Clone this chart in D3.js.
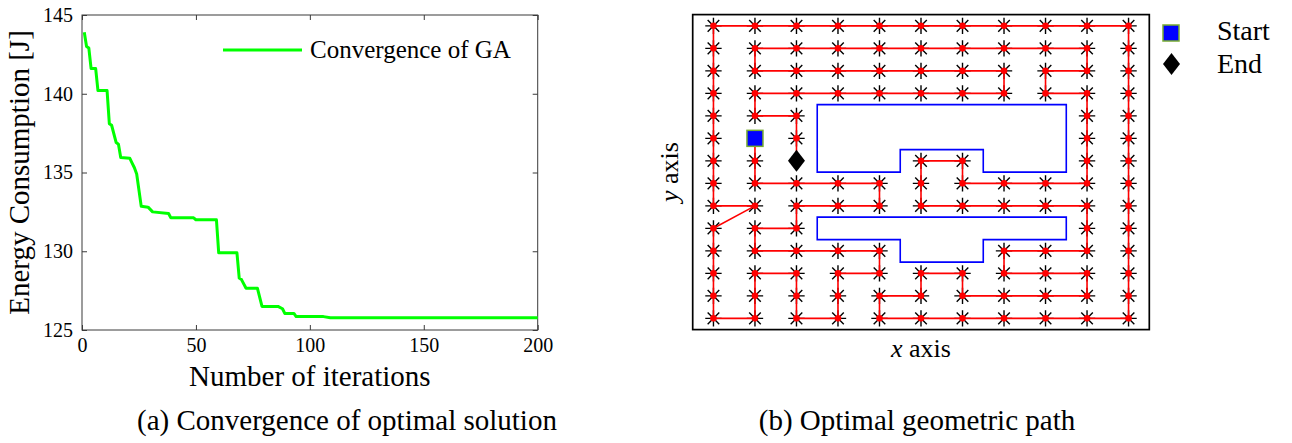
<!DOCTYPE html>
<html>
<head>
<meta charset="utf-8">
<script src="https://cdn.jsdelivr.net/npm/d3@7"></script>
<style>
  html, body { margin: 0; padding: 0; background: #fff; }
  svg { display: block; }
  text { font-family: "Liberation Serif", "Times New Roman", serif; fill: #000; }
</style>
</head>
<body>
<svg id="fig" width="1292" height="443"></svg>
<script>
// ---- (a) GA convergence: best energy per iteration (vertices of the stepped curve)
const gaIterations = [1, 2, 3, 4, 6, 7, 11, 12, 13, 15, 16, 17, 21, 22, 23, 24, 26, 29, 31, 38, 39, 49, 50, 59, 60, 68, 69, 70, 72, 77, 79, 86, 88, 89, 93, 94, 106, 109, 200];
const gaEnergy = [143.9, 143.0, 142.9, 141.6, 141.6, 140.2, 140.2, 138.1, 138.0, 136.9, 136.8, 135.95, 135.9, 135.6, 135.3, 134.9, 132.85, 132.8, 132.5, 132.4, 132.12, 132.12, 132.0, 132.0, 129.9, 129.9, 128.3, 128.2, 127.65, 127.65, 126.5, 126.5, 126.35, 126.05, 126.05, 125.85, 125.85, 125.78, 125.78];
const xTicksA = [0, 50, 100, 150, 200];
const yTicksA = [125, 130, 135, 140, 145];

// ---- (b) optimal geometric path on the 11 x 14 node grid (column, row)
const pathNodes = [
  [2,9],[2,8],[2,7],[3,7],[4,7],[5,7],[5,6],[4,6],[3,6],[3,5],
  [2,5],[2,4],[3,4],[4,4],[5,4],[5,3],[4,3],[4,2],[4,1],[3,1],
  [3,2],[3,3],[2,3],[2,2],[2,1],[1,1],[1,2],[1,3],[1,4],[1,5],
  [2,6],[1,6],[1,7],[1,8],[1,9],[1,10],[1,11],[1,12],[1,13],[1,14],
  [2,14],[3,14],[4,14],[5,14],[6,14],[7,14],[8,14],[9,14],[10,14],[11,14],
  [11,13],[11,12],[11,11],[11,10],[11,9],[11,8],[11,7],[11,6],[11,5],[11,4],[11,3],[11,2],[11,1],
  [10,1],[9,1],[8,1],[7,1],[6,1],[5,1],
  [5,2],[6,2],[6,3],[7,3],[7,2],[8,2],[9,2],[10,2],[10,3],[9,3],[8,3],[8,4],
  [9,4],[10,4],[10,5],[10,6],[9,6],[8,6],[7,6],[6,6],[6,7],
  [6,8],[7,8],[7,7],[8,7],[9,7],[10,7],[10,8],[10,9],[10,10],[10,11],
  [9,11],[9,12],[10,12],[10,13],
  [9,13],[8,13],[7,13],[6,13],[5,13],[4,13],[3,13],[2,13],
  [2,12],[3,12],[4,12],[5,12],[6,12],[7,12],[8,12],
  [8,11],[7,11],[6,11],[5,11],[4,11],[3,11],[2,11],
  [2,10],[3,10],[3,9],[3,8]
];
const obstacleUpper = [[3.5,10.5],[9.5,10.5],[9.5,7.5],[7.5,7.5],[7.5,8.5],[5.5,8.5],[5.5,7.5],[3.5,7.5]];
const obstacleLower = [[3.5,5.5],[9.5,5.5],[9.5,4.5],[7.5,4.5],[7.5,3.5],[5.5,3.5],[5.5,4.5],[3.5,4.5]];
const startNode = [2, 9];
const endNode = [3, 8];

const svg = d3.select("#fig");
const axisColor = "#3a3a3a";

// ================= panel (a) =================
const A = { left: 82, right: 537.7, top: 15, bottom: 330 };
const xA = d3.scaleLinear().domain([0, 200]).range([A.left, A.right]);
const yA = d3.scaleLinear().domain([125, 145]).range([A.bottom, A.top]);
const gA = svg.append("g");

function styleAxis(g) {
  g.select(".domain").remove();
  g.selectAll(".tick line").attr("stroke", axisColor).attr("stroke-width", 1);
  g.selectAll(".tick text").style("font-family", '"Liberation Serif", serif').style("font-size", "20px").attr("fill", "#222");
}
gA.append("g").attr("transform", `translate(0,${A.bottom})`)
  .call(d3.axisBottom(xA).tickValues(xTicksA).tickSize(-5).tickPadding(8).tickFormat(d3.format("d")))
  .call(styleAxis);
gA.append("g").attr("transform", `translate(0,${A.top})`)
  .call(d3.axisTop(xA).tickValues(xTicksA).tickSize(-5).tickFormat(""))
  .call(styleAxis);
gA.append("g").attr("transform", `translate(${A.left},0)`)
  .call(d3.axisLeft(yA).tickValues(yTicksA).tickSize(-5).tickPadding(9).tickFormat(d3.format("d")))
  .call(styleAxis);
gA.append("g").attr("transform", `translate(${A.right},0)`)
  .call(d3.axisRight(yA).tickValues(yTicksA).tickSize(-5).tickFormat(""))
  .call(styleAxis);
gA.append("rect").attr("x", A.left).attr("y", A.top)
  .attr("width", A.right - A.left).attr("height", A.bottom - A.top)
  .attr("fill", "none").attr("stroke", axisColor).attr("stroke-width", 1);

const gaPoints = gaIterations.map((it, i) => [it, gaEnergy[i]]);
gA.append("path").datum(gaPoints)
  .attr("fill", "none").attr("stroke", "#00ff00").attr("stroke-width", 3)
  .attr("stroke-linejoin", "round")
  .attr("d", d3.line().x(d => xA(d[0])).y(d => yA(d[1])));

// legend
gA.append("line").attr("x1", 223).attr("x2", 302).attr("y1", 50).attr("y2", 50)
  .attr("stroke", "#00ff00").attr("stroke-width", 3);
gA.append("text").attr("x", 310).attr("y", 58).style("font-size", "25px").text("Convergence of GA");

gA.append("text").attr("x", (A.left + A.right) / 2).attr("y", 386)
  .attr("text-anchor", "middle").style("font-size", "29px").attr("fill", "#222").text("Number of iterations");
gA.append("text").attr("transform", `translate(29,${(A.top + A.bottom) / 2}) rotate(-90)`)
  .attr("text-anchor", "middle").style("font-size", "29px").attr("fill", "#222").text("Energy Consumption [J]");
gA.append("text").attr("x", 347).attr("y", 430).attr("text-anchor", "middle")
  .style("font-size", "29px").text("(a) Convergence of optimal solution");

// ================= panel (b) =================
const B = { left: 692.7, right: 1149.3, top: 14.6, bottom: 329.6 };
const xB = d3.scaleLinear().domain([0.5, 11.5]).range([B.left, B.right]);
const yB = d3.scaleLinear().domain([0.5, 14.5]).range([B.bottom, B.top]);
const gB = svg.append("g");

// obstacles
const poly = d3.line().x(d => xB(d[0])).y(d => yB(d[1])).curve(d3.curveLinearClosed);
[obstacleUpper, obstacleLower].forEach(o => {
  gB.append("path").attr("d", poly(o)).attr("fill", "none")
    .attr("stroke", "#0000ff").attr("stroke-width", 1.6);
});

// asterisk markers at every visited node
const innerNodes = pathNodes.filter(p => !(p[0] === startNode[0] && p[1] === startNode[1]) && !(p[0] === endNode[0] && p[1] === endNode[1]));
const r = 8.2, dg = 5.8;
const ast = gB.append("g").attr("stroke", "#000").attr("stroke-width", 1.4);
innerNodes.forEach(p => {
  const cx = xB(p[0]), cy = yB(p[1]);
  ast.append("path").attr("d",
    `M${cx - r},${cy}H${cx + r}M${cx},${cy - r}V${cy + r}` +
    `M${cx - dg},${cy - dg}L${cx + dg},${cy + dg}M${cx - dg},${cy + dg}L${cx + dg},${cy - dg}`);
});

// route
gB.append("path").datum(pathNodes)
  .attr("fill", "none").attr("stroke", "#ff0000").attr("stroke-width", 1.6)
  .attr("d", d3.line().x(d => xB(d[0])).y(d => yB(d[1])));
gB.append("g").selectAll("circle").data(innerNodes).join("circle")
  .attr("cx", d => xB(d[0])).attr("cy", d => yB(d[1])).attr("r", 3.3).attr("fill", "#ff0000");

// start / end markers
const sq = 16;
gB.append("rect").attr("x", xB(startNode[0]) - sq / 2).attr("y", yB(startNode[1]) - sq / 2)
  .attr("width", sq).attr("height", sq).attr("fill", "#0000ff").attr("stroke", "#77ac30").attr("stroke-width", 1.5);
const dw = 8.5, dh = 11;
const diamond = (cx, cy) => `M${cx},${cy - dh}L${cx + dw},${cy}L${cx},${cy + dh}L${cx - dw},${cy}Z`;
gB.append("path").attr("d", diamond(xB(endNode[0]), yB(endNode[1]))).attr("fill", "#000");

// frame
gB.append("rect").attr("x", B.left).attr("y", B.top)
  .attr("width", B.right - B.left).attr("height", B.bottom - B.top)
  .attr("fill", "none").attr("stroke", "#000").attr("stroke-width", 1.7);

// legend
gB.append("rect").attr("x", 1171 - sq / 2).attr("y", 33 - sq / 2).attr("width", sq).attr("height", sq)
  .attr("fill", "#0000ff").attr("stroke", "#77ac30").attr("stroke-width", 1.5);
gB.append("path").attr("d", diamond(1171.5, 64)).attr("fill", "#000");
gB.append("text").attr("x", 1217).attr("y", 40).style("font-size", "28px").text("Start");
gB.append("text").attr("x", 1217).attr("y", 73).style("font-size", "28px").text("End");

// axis labels and caption
const xl = gB.append("text").attr("x", (B.left + B.right) / 2).attr("y", 357)
  .attr("text-anchor", "middle").style("font-size", "26px");
xl.append("tspan").style("font-style", "italic").text("x");
xl.append("tspan").text(" axis");
const yl = gB.append("text").attr("transform", `translate(678,${(B.top + B.bottom) / 2}) rotate(-90)`)
  .attr("text-anchor", "middle").style("font-size", "26px");
yl.append("tspan").style("font-style", "italic").text("y");
yl.append("tspan").text(" axis");
gB.append("text").attr("x", 917).attr("y", 430).attr("text-anchor", "middle")
  .style("font-size", "29px").text("(b) Optimal geometric path");
</script>
</body>
</html>
